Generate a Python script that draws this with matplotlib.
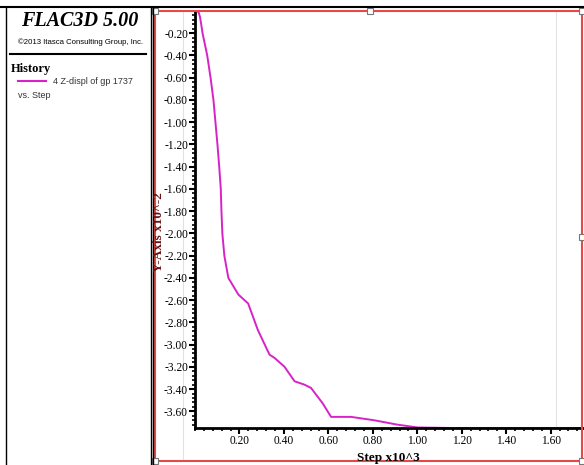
import matplotlib.pyplot as plt
from matplotlib.lines import Line2D
from matplotlib.patches import Rectangle
from matplotlib.ticker import MultipleLocator, FixedLocator

# history data (step x10^3, z-displ x10^-2)
step = [0.007, 0.016, 0.022, 0.028, 0.034, 0.055, 0.070, 0.083, 0.092, 0.101,
        0.109, 0.116, 0.119, 0.123, 0.132, 0.150, 0.171, 0.195, 0.239, 0.283,
        0.335, 0.358, 0.403, 0.448, 0.492, 0.522, 0.575, 0.612, 0.702, 0.805,
        0.911, 1.001, 1.15, 1.35, 1.75]
zdisp = [0.0, -0.01, -0.05, -0.12, -0.20, -0.40, -0.60, -0.80, -1.00, -1.20,
         -1.40, -1.60, -1.80, -2.00, -2.20, -2.40, -2.47, -2.55, -2.63, -2.87,
         -3.09, -3.12, -3.20, -3.33, -3.36, -3.39, -3.53, -3.65, -3.65, -3.68,
         -3.72, -3.745, -3.75, -3.75, -3.75]

yticks = [-0.20, -0.40, -0.60, -0.80, -1.00, -1.20, -1.40, -1.60, -1.80,
          -2.00, -2.20, -2.40, -2.60, -2.80, -3.00, -3.20, -3.40, -3.60]
xticks = [0.20, 0.40, 0.60, 0.80, 1.00, 1.20, 1.40, 1.60]

W, H = 584, 465
def fx(x): return x / W
def fy(y): return 1 - y / H

serif = 'Liberation Serif'
sans = 'Liberation Sans'

fig = plt.figure(figsize=(W / 100, H / 100), dpi=100)
fig.patch.set_facecolor('white')

# faint vertical lines (behind everything)
fig.add_artist(Line2D([fx(183), fx(183)], [fy(12), fy(460)], color='#e2e2e2',
                      lw=0.8, zorder=-5))
fig.add_artist(Line2D([fx(556), fx(556)], [fy(12), fy(428)], color='#e2e2e2',
                      lw=0.8, zorder=-5))

# main plot area
ax = fig.add_axes([fx(195), fy(428), fx(584) - fx(195), fy(11) - fy(428)])
ax.patch.set_alpha(0)
ax.plot(step, zdisp, color='#d822c8', lw=1.4)
ax.set_xlim(0, 1.75)
ax.set_ylim(-3.75, 0)
for s in ['top', 'right']:
    ax.spines[s].set_visible(False)
for s in ['left', 'bottom']:
    ax.spines[s].set_linewidth(2)
ax.yaxis.set_major_locator(FixedLocator(yticks))
ax.xaxis.set_major_locator(FixedLocator(xticks))
ax.yaxis.set_minor_locator(MultipleLocator(0.04))
ax.xaxis.set_minor_locator(MultipleLocator(0.04))
ax.set_yticklabels(['%.2f' % v for v in yticks])
ax.set_xticklabels(['%.2f' % v for v in xticks])
ax.tick_params(which='major', direction='out', length=4, width=1.5,
               labelsize=8.3, pad=1)
ax.tick_params(which='minor', direction='out', length=2.5, width=1.2)
for lab in ax.get_xticklabels() + ax.get_yticklabels():
    lab.set_fontfamily(serif)

# axis labels
fig.text(fx(159), fy(232), 'Y-Axis x10^-2', rotation=90, ha='center', va='center',
         fontsize=9.5, fontweight='bold', family=serif, color='#6a1010')
fig.text(fx(388), fy(458), 'Step x10^3', ha='center', va='center',
         fontsize=9.5, fontweight='bold', family=serif)

# frame lines
fig.add_artist(Line2D([fx(0), fx(584)], [fy(7.5), fy(7.5)], color='black', lw=1.5))
fig.add_artist(Line2D([fx(6), fx(6)], [fy(7.5), fy(465)], color='black', lw=1))
fig.add_artist(Line2D([fx(151), fx(151)], [fy(7.5), fy(465)], color='black', lw=1))
fig.add_artist(Line2D([fx(153), fx(153)], [fy(7.5), fy(465)], color='black', lw=1))
fig.add_artist(Rectangle((fx(155), fy(461)), fx(582) - fx(155), fy(11) - fy(461),
                         fill=False, edgecolor='#e84848', lw=1.5))
for hx, hy in [(155, 11), (370, 11), (582, 11), (582, 237), (582, 461), (155, 461)]:
    fig.add_artist(Rectangle((fx(hx - 3), fy(hy + 3)), fx(6), 6 / H, fill=True,
                             facecolor='white', edgecolor='#777777', lw=0.8))

# left info panel
fig.text(fx(80), fy(21), 'FLAC3D 5.00', ha='center', va='center', fontsize=14.5,
         fontweight='bold', fontstyle='italic', family=serif)
fig.text(fx(80), fy(42), '\u00a92013 Itasca Consulting Group, Inc.', ha='center',
         va='center', fontsize=5.6, family=sans)
fig.add_artist(Line2D([fx(10), fx(146)], [fy(54), fy(54)], color='black', lw=1.5))
fig.text(fx(11), fy(69), 'History', ha='left', va='center', fontsize=9,
         fontweight='bold', family=serif)
fig.add_artist(Line2D([fx(18), fx(46)], [fy(81), fy(81)], color='#d822c8', lw=1.5))
fig.text(fx(53), fy(81), '4 Z-displ of gp 1737', ha='left', va='center',
         fontsize=6.5, family=sans, color='#333333')
fig.text(fx(18), fy(95), 'vs. Step', ha='left', va='center', fontsize=6.5,
         family=sans, color='#333333')

fig.savefig('out.png', dpi=100)
